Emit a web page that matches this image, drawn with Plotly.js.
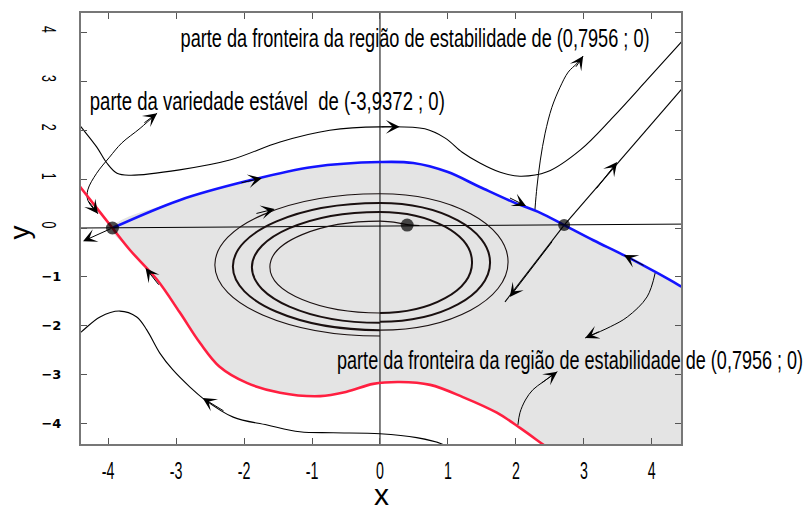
<!DOCTYPE html>
<html>
<head>
<meta charset="utf-8">
<script src="https://cdn.plot.ly/plotly-3.0.1.min.js"></script>
<style>
  html, body { margin: 0; padding: 0; background: #ffffff; }
  #plot { width: 806px; height: 507px; }
</style>
</head>
<body>
<div id="plot"></div>
<script>
// ---- axis ticks ----
const xTickVals = [-4, -3, -2, -1, 0, 1, 2, 3, 4];
const xTickText = ['-4', '-3', '-2', '-1', '0', '1', '2', '3', '4'];
const yNegVals = [-4, -3, -2, -1];
const yNegText = ['\u22124', '\u22123', '\u22122', '\u22121'];
const yPosVals = [0, 1, 2, 3, 4];
const yPosText = ['0', '1', '2', '3', '4'];

// ---- equilibria ----
const eqX = [-3.9372, 2.71, 0.40];
const eqY = [0, 0.06, 0.06];

// ---- boundary of the stability region: upper (blue) and lower (red) ----
const blueX = [-3.9372, -2.95, -1.96, -0.99, 0, 0.49, 0.99, 1.47, 1.96, 2.36, 2.71, 3.14, 3.61, 4.08, 4.45, 4.6];
const blueY = [0, 0.57, 0.96, 1.25, 1.35, 1.33, 1.15, 0.84, 0.53, 0.31, 0.06, -0.25, -0.57, -0.92, -1.21, -1.33];
const redX = [-4.5, -4.40, -3.9372, -3.68, -3.28, -2.95, -2.65, -2.36, -1.96, -1.47, -0.88, -0.49, -0.10, 0.29, 0.74, 1.22, 1.72, 2.06, 2.39, 2.55];
const redY = [1.0, 0.82, 0, -0.45, -1.06, -1.72, -2.35, -2.84, -3.17, -3.37, -3.44, -3.35, -3.19, -3.15, -3.21, -3.46, -3.78, -4.09, -4.42, -4.58];

// ---- other trajectories ----
const topX = [-4.5, -4.40, -4.17, -4.02, -3.87, -3.68, -2.95, -2.21, -1.47, -0.74, 0, 0.66, 0.96, 1.21, 1.47, 1.77, 2.06, 2.46, 2.95, 3.43, 3.93, 4.43, 4.55];
const topY = [2.25, 2.07, 1.66, 1.33, 1.12, 1.08, 1.19, 1.39, 1.76, 2.00, 2.07, 2.03, 1.84, 1.55, 1.33, 1.14, 1.06, 1.15, 1.60, 2.27, 3.03, 3.80, 3.98];
const lowX = [-4.5, -4.40, -4.12, -3.83, -3.58, -3.43, -3.24, -3.05, -2.80, -2.61, -2.16, -1.66, -1.18, -0.69, 0, 0.54, 0.91, 1.0];
const lowY = [-2.24, -2.13, -1.82, -1.70, -1.82, -2.09, -2.56, -2.90, -3.25, -3.48, -3.87, -4.03, -4.17, -4.19, -4.21, -4.29, -4.42, -4.5];
const unstX = [2.71, 4.55];
const unstY = [0.06, 3.02];
const inX = [2.71, 1.84];
const inY = [0.06, -1.51];

// ---- spiral around the stable point: half loops crossing x = 0 ----
const spiralStartY = [-2.21, 0.70, -2.09, 0.51, -1.94, 0.33, -1.74];
const spiralEndY = [0.70, -2.09, 0.51, -1.92, 0.33, -1.74, 0.14];
const spiralExtX = [-2.43, 1.885, -2.165, 1.62, -1.885, 1.355, -1.62];
const spiralWidth = [1.1, 1.1, 2.0, 2.0, 2.0, 2.0, 1.1];
const innerX = [0, 0.2, 0.40, 0.58];
const innerY = [0.14, 0.12, 0.07, 0.05];

// ---- label connectors ----
const connAX = [2.28, 2.31, 2.36, 2.43, 2.53, 2.65, 2.77, 2.90, 2.99];
const connAY = [0.37, 0.84, 1.39, 1.94, 2.47, 2.88, 3.19, 3.37, 3.52];
const connBX = [-3.28, -3.53, -3.80, -3.98, -4.17, -4.30, -4.30, -4.15];
const connBY = [2.35, 2.04, 1.74, 1.45, 1.12, 0.78, 0.57, 0.29];
const connCX = [4.05, 3.93, 3.64, 3.39, 3.02];
const connCY = [-0.92, -1.41, -1.82, -2.02, -2.25];
const connDX = [2.03, 2.06, 2.14, 2.25, 2.40, 2.61];
const connDY = [-4.03, -3.78, -3.52, -3.31, -3.15, -2.94];

// ---- arrow heads (tip and tail) ----
const arrowTipX = [0.29, -1.74, 2.15, 3.59, -3.45, -4.15, -4.37, 3.49, 1.91, -1.55, -2.61, 2.99, -3.28, 3.02, 2.61];
const arrowTipY = [2.07, 1.02, 0.45, -0.55, -0.82, 0.29, -0.27, 1.35, -1.41, 0.39, -3.48, 3.52, 2.35, -2.25, -2.94];
const arrowTailX = [0.0, -2.06, 1.89, 3.90, -3.24, -4.30, -3.94, 3.17, 2.55, -1.84, -2.28, 2.87, -3.49, 3.24, 2.36];
const arrowTailY = [2.07, 0.92, 0.63, -0.78, -1.19, 0.57, 0.0, 0.78, -0.25, 0.29, -3.76, 3.27, 2.13, -2.11, -3.19];

// ---- text labels ----
const labelText = [
  'parte da fronteira da região de estabilidade de (0,7956 ; 0)',
  'parte da variedade estável\u00a0 de (-3,9372 ; 0)',
  'parte da fronteira da região de estabilidade de (0,7956 ; 0)'
];
const labelX = [0.52, -1.66, 2.80];
const labelY = [3.89, 2.60, -2.70];
const labelWidth = [469, 355, 466];

// axis names
const xName = 'x';
const yName = 'y';

const SANS = "'Liberation Sans', Arial, sans-serif";
const X_RANGE = [-4.40, 4.43];
const Y_RANGE = [-4.42, 4.40];

// gray region: blue boundary out to the right, then back along the red boundary
const regionX = blueX.concat([4.6, 2.55]).concat(redX.slice(2).reverse());
const regionY = blueY.concat([-4.62, -4.62]).concat(redY.slice(2).reverse());

function line(x, y, color, width, yaxis) {
  return {
    type: 'scatter', mode: 'lines', x: x, y: y, yaxis: yaxis || 'y',
    line: { color: color, width: width, shape: 'spline', smoothing: 1 },
    hoverinfo: 'skip'
  };
}

const traces = [
  {
    type: 'scatter', mode: 'lines', x: regionX, y: regionY,
    fill: 'toself', fillcolor: '#e4e4e4',
    line: { width: 0, shape: 'spline', smoothing: 1 }, hoverinfo: 'skip'
  },
  // coordinate axes through the origin
  line([X_RANGE[0], X_RANGE[1]], [0, 0.08], '#000', 1, 'y2'),
  line([0, 0], [Y_RANGE[0], Y_RANGE[1]], '#000', 1),
  line(topX, topY, '#000', 1.1),
  line(lowX, lowY, '#000', 1.1),
  line(unstX, unstY, '#000', 1.1),
  line(inX, inY, '#000', 1.1),
  line(innerX, innerY, '#1a1010', 1.1),
  line(connAX, connAY, '#000', 1),
  line(connBX, connBY, '#000', 1),
  line(connCX, connCY, '#000', 1),
  line(connDX, connDY, '#000', 1),
  line(blueX, blueY, '#1414ff', 2.6),
  line(redX, redY, '#ff1f40', 2.6),
  {
    type: 'scatter', mode: 'markers', x: eqX, y: eqY,
    marker: { color: '#000', size: [13, 12, 13], line: { width: 0 } }, hoverinfo: 'skip'
  }
];

// spiral half loops as cubic Bezier paths in data coordinates
const K = 0.5523;
const shapes = spiralStartY.map(function (y0, i) {
  const y1 = spiralEndY[i];
  const xe = spiralExtX[i];
  const cy = (y0 + y1) / 2;
  const p = 'M0,' + y0 +
    ' C' + (K * xe) + ',' + y0 + ' ' + xe + ',' + (cy + K * (y0 - cy)) + ' ' + xe + ',' + cy +
    ' C' + xe + ',' + (cy + K * (y1 - cy)) + ' ' + (K * xe) + ',' + y1 + ' 0,' + y1;
  return {
    type: 'path', xref: 'x', yref: 'y', path: p, layer: 'above',
    line: { color: '#1a1010', width: spiralWidth[i] }
  };
});

const annotations = [];
arrowTipX.forEach(function (tx, i) {
  annotations.push({
    x: tx, y: arrowTipY[i], ax: arrowTailX[i], ay: arrowTailY[i],
    xref: 'x', yref: 'y', axref: 'x', ayref: 'y',
    text: '', showarrow: true, arrowhead: 3, arrowsize: 2.3,
    arrowwidth: 1, arrowcolor: '#000', standoff: 0
  });
});
labelText.forEach(function (t, i) {
  annotations.push({
    x: labelX[i], y: labelY[i], xref: 'x', yref: 'y',
    xanchor: 'center', yanchor: 'middle', showarrow: false, text: t,
    font: { family: SANS, size: 26, color: '#000' }
  });
});
// axis names below and left of the frame
annotations.push({
  x: 0.5, y: -0.118, xref: 'paper', yref: 'paper', showarrow: false,
  xanchor: 'center', yanchor: 'middle', text: xName,
  font: { family: SANS, size: 30, color: '#000' }
});
annotations.push({
  x: -0.102, y: 0.49, xref: 'paper', yref: 'paper', showarrow: false,
  xanchor: 'center', yanchor: 'middle', text: yName, textangle: -90,
  font: { family: SANS, size: 28, color: '#000' }
});

const layout = {
  width: 806, height: 507,
  margin: { l: 81, r: 125, t: 13, b: 63 },
  paper_bgcolor: '#ffffff', plot_bgcolor: '#ffffff',
  showlegend: false,
  xaxis: {
    range: X_RANGE, tickmode: 'array', tickvals: xTickVals, ticktext: xTickText,
    ticks: 'inside', ticklen: 6, tickcolor: '#555', tickwidth: 1,
    showline: true, linecolor: '#777', linewidth: 2, mirror: 'ticks',
    showgrid: false, zeroline: false, ticklabelstandoff: 5,
    tickfont: { family: SANS, size: 23, color: '#000' }
  },
  yaxis: {
    range: Y_RANGE, tickmode: 'array',
    tickvals: yNegVals.concat(yPosVals), ticktext: yNegText.concat(['', '', '', '', '']),
    ticks: 'inside', ticklen: 6, tickcolor: '#555', tickwidth: 1,
    showline: true, linecolor: '#777', linewidth: 2, mirror: 'ticks',
    showgrid: false, zeroline: false, ticklabelstandoff: 15,
    tickfont: { family: "'DejaVu Sans', sans-serif", size: 13, color: '#000', weight: 'bold' }
  },
  yaxis2: {
    overlaying: 'y', side: 'left', range: Y_RANGE, tickmode: 'array',
    tickvals: yPosVals, ticktext: yPosText, tickangle: 90,
    ticks: '', showline: false, showgrid: false, zeroline: false,
    ticklabelstandoff: 18,
    tickfont: { family: SANS, size: 20, color: '#000' }
  },
  shapes: shapes,
  annotations: annotations
};

Plotly.newPlot('plot', traces, layout, { staticPlot: true, displayModeBar: false }).then(function (gd) {
  // condensed lettering: squeeze the labels to their set widths
  const texts = Array.prototype.filter.call(
    gd.querySelectorAll('.annotation-text'),
    function (n) { return n.textContent.length > 1; }
  );
  texts.forEach(function (n, i) {
    n.setAttribute('textLength', labelWidth[i]);
    n.setAttribute('lengthAdjust', 'spacingAndGlyphs');
  });
  gd.querySelectorAll('.xtick text, .y2tick text').forEach(function (n) {
    const w = n.getComputedTextLength();
    n.setAttribute('textLength', (w * 0.62).toFixed(1));
    n.setAttribute('lengthAdjust', 'spacingAndGlyphs');
  });
});
</script>
</body>
</html>
